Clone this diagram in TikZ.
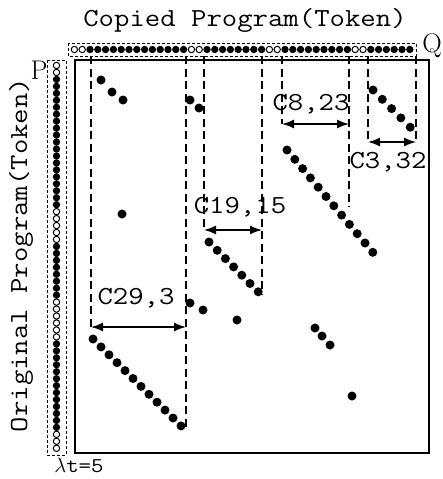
\documentclass[tikz,border=0pt]{standalone}
\usepackage{fontspec}
\setmonofont[FakeStretch=1.15]{Latin Modern Mono}
\usetikzlibrary{arrows.meta}
\begin{document}
\begin{tikzpicture}[x=1pt,y=-1pt,
  lbl/.style={font=\fontsize{26}{26}\selectfont\ttfamily, inner sep=0pt},
  pq/.style={font=\fontsize{27}{27}\selectfont, inner sep=0pt},
  dl/.style={dash pattern=on 8pt off 4.5pt, line width=1.1pt},
  barbox/.style={dash pattern=on 3pt off 2pt, line width=1pt},
  tok0/.style={circle, draw, line width=1pt, inner sep=0pt, minimum size=6.4pt},
  tok1/.style={circle, fill, inner sep=0pt, minimum size=7.4pt},
  dot/.style={circle, fill, inner sep=0pt, minimum size=9pt},
  dbl/.style={{Latex[length=12pt,width=9pt]}-{Latex[length=12pt,width=9pt]}, line width=1.4pt}
]
\useasboundingbox (0,0) rectangle (443,479);

% titles
\node[lbl] (title) at (245,20) {Copied Program(Token)};
\node[lbl, rotate=90] (ylab) at (21,255) {Original Program(Token)};
\node[pq] (P) at (39,70) {P};
\node[pq] (Q) at (432,46) {Q};
\node[font=\fontsize{21}{21}\selectfont\ttfamily, inner sep=0pt] (lt) at (79,465) {$\lambda$t=5};

% bars
\draw[barbox] (68,43) rectangle (416,56);
\draw[barbox] (47,60) rectangle (66,455);
\foreach \f [count=\i] in {0,0,1,1,1,1,1,1,1,1,1,1,1,1,1,0,0,1,1,1,1,1,1,1,1,0,0,1,1,1,1,1,1,1,1,1,0,0,1,1,1,1,1,1}
  \node[tok\f] (q\i) at ({70.5+(\i-0.5)*7.8}, 49.5) {};
\foreach \f [count=\i] in {0,0,1,1,1,1,1,1,1,1,1,1,1,1,1,1,1,1,1,1,1,0,0,0,0,0,1,1,1,1,1,1,1,1,0,0,0,0,0,0,1,1,1,1,1,1,1,1,1,1,1,1,1,0,0,0}
  \node[tok\f] (p\i) at (56.5, {62+(\i-0.5)*6.96}) {};

% matrix frame
\draw[line width=1.3pt] (75,60) rectangle (429,453);

% dashed region lines
\coordinate (a1t) at (91,56);  \coordinate (a1b) at (91,327);
\coordinate (a2t) at (186,56); \coordinate (a2b) at (186,430);
\coordinate (b1t) at (204,56); \coordinate (b1b) at (204,230);
\coordinate (b2t) at (262,56); \coordinate (b2b) at (262,295);
\coordinate (c1t) at (282,56); \coordinate (c1b) at (282,124);
\coordinate (c2t) at (349,56); \coordinate (c2b) at (349,207);
\coordinate (d1t) at (368,56); \coordinate (d1b) at (368,142);
\coordinate (d2t) at (416,56); \coordinate (d2b) at (416,142);
\foreach \n in {a1,a2,b1,b2,c1,c2,d1,d2}
  \draw[dl] (\n t) -- (\n b);

% arrows
\coordinate (a1) at (91,327);  \coordinate (a2) at (186,327);
\coordinate (b1) at (204,230); \coordinate (b2) at (262,230);
\coordinate (c1) at (282,124); \coordinate (c2) at (349,124);
\coordinate (d1) at (368,142); \coordinate (d2) at (416,142);
\draw[dbl] (a1) -- (a2);
\draw[dbl] (b1) -- (b2);
\draw[dbl] (c1) -- (c2);
\draw[dbl] (d1) -- (d2);

% labels
\node[lbl] (la) at (136,298) {C29,3};
\node[lbl] (lb) at (240,207) {C19,15};
\node[lbl] (lc) at (311,104) {C8,23};
\node[lbl] (ld) at (388,162) {C3,32};

% dots
\foreach \x/\y [count=\i] in {101/80,112/92,123/100,190/100,199/108,122/214,
  190/303,203/310,237/320,315/328,322/336,330/345,352/396}
  \node[dot] (m\i) at (\x,\y) {};
\foreach \i in {0,...,4}
  \node[dot] (d\i) at ({373+\i*9.3},{90+\i*9.3}) {};
\foreach \i in {0,...,11}
  \node[dot] (c\i) at ({287+\i*7.8},{150+\i*9.3}) {};
\foreach \i in {0,...,6}
  \node[dot] (b\i) at ({209+\i*8.2},{242+\i*8.3}) {};
\foreach \i in {0,...,11}
  \node[dot] (a\i) at ({93+\i*8},{339+\i*7.9}) {};
\end{tikzpicture}
\end{document}
